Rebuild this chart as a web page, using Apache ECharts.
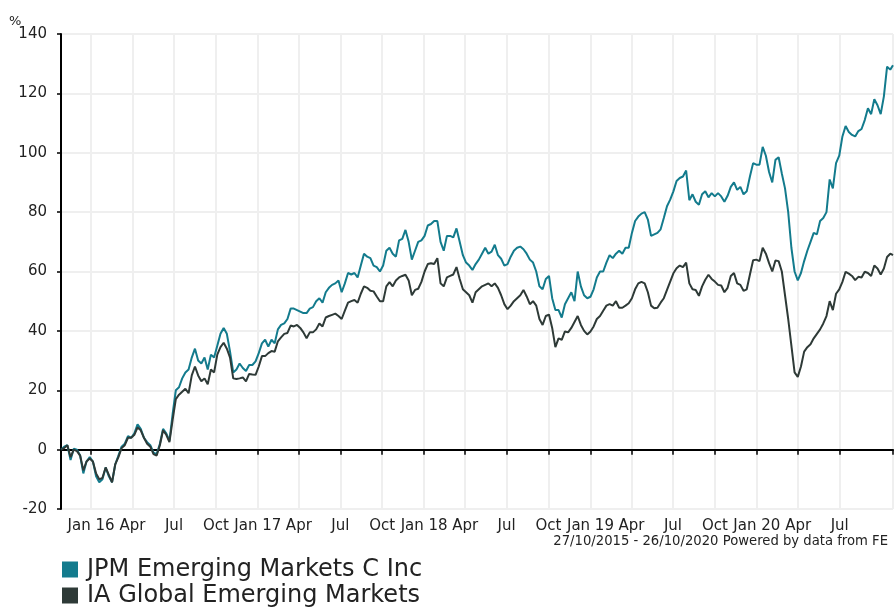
<!DOCTYPE html>
<html>
<head>
<meta charset="utf-8">
<title>JPM Emerging Markets C Inc vs IA Global Emerging Markets</title>
<script src="https://cdn.jsdelivr.net/npm/echarts@6.0.0/dist/echarts.min.js"></script>
<style>
    html, body { margin: 0; padding: 0; background: #fff; }
    #echartsbox { width: 894px; height: 607px; }
</style>
</head>
<body>
<div id="echartsbox"></div>
<script>
// 数据: 周度累计收益 (%)
var startDate = '2015-10-27';
var endDate = '2020-10-26';
var seriesNames = ['JPM Emerging Markets C Inc', 'IA Global Emerging Markets'];
var seriesColors = ['#137b8d', '#2e3a37'];

var jpmValues = [
    0, 1, 1.5, -3.5, 0.3, 0, -2, -8, -4, -2.5, -4, -9, -11, -10, -6, -9, -11, -5, -2, 1,
    2, 4.5, 4, 5.5, 8.5, 7, 4, 2.5, 1.5, -1, -1.5, 2, 7, 5.5, 3,
    12, 20, 21, 24, 26, 27, 31, 34, 30, 29, 31, 27, 32, 31, 35, 39, 41, 39, 33, 26,
    27, 29, 27.5, 26.5, 28.5, 28.5, 29.7, 32.5, 35.8, 37, 34.7, 37, 35.8, 40.5, 42, 42.5,
    44, 47.5, 47.5, 47, 46.5, 46, 46, 47.5, 48, 50, 51, 49.5, 53, 54.5, 55.5, 56, 57, 53,
    56, 59.5, 59, 59.5, 58, 62, 66, 65, 64.5, 62, 61.5, 60, 62, 67, 68, 66, 65, 70.5, 71,
    74, 70, 64, 67, 70, 70.5, 72,
    75.5, 76, 77, 77, 70, 67, 72, 72, 71.5, 74.5, 70, 65.5, 63, 62, 60.5, 62.5, 64, 66, 68,
    66, 66.7, 69, 65.5, 64.3, 62, 62.5, 65, 67, 68, 68.4, 67.5, 66, 64, 63, 60, 55, 54, 57.5,
    58.5, 51, 47, 47, 44.5, 49, 51, 53, 50, 60, 55, 52, 51, 51.5, 54, 58, 60, 60, 63, 65.5,
    64.5, 66,
    67, 66, 68, 68, 73, 77, 78.5, 79.5, 80, 77.5, 72, 72.5, 73, 74.2, 78, 82, 84.2, 87, 90.5,
    91.5, 92, 94, 84, 86, 83.5, 82.5, 86, 87, 85, 86.4, 85.3, 86.4, 85.3, 83.5, 85.5, 88.5,
    90, 87.5, 88.5, 86, 87, 92, 96.5, 96, 96, 102, 99, 93.5, 90, 97.6, 98.5, 93, 88, 80,
    68, 60, 57, 59.5, 63.5, 67, 70, 73, 72.5, 77, 78, 80, 91, 88, 96.5, 99, 105.5, 109, 107,
    106, 105.5, 107.3, 108, 111, 115, 113, 118, 116, 113, 119, 129, 128, 129.5
];

var iaValues = [
    0, 0.5, 1.5, -2.5, 0, -0.5, -2, -7, -4, -3, -4, -8, -10, -9.5, -6, -8.5, -11, -5, -2.5, 0.5,
    1.5, 4, 4, 5, 7.5, 6.5, 4, 2, 1, -1.5, -2, 1.5, 6.5, 5, 2.5,
    10, 17, 18.5, 19.5, 20.5, 19, 25, 28, 25, 23, 24, 22, 27, 26, 32, 34.5, 36, 34, 31, 24,
    23.8, 24, 24.3, 23, 25.5, 25.3, 25.2, 28, 31.5, 31.5, 32.5, 33.2, 33, 36.5, 37.8, 39,
    39.3, 41.8, 41.5, 42, 41, 39.5, 37.5, 39.5, 39.5, 40.5, 42.5, 41.5, 44.5, 45, 45.4, 45.8,
    45, 44, 46.8, 49.5, 50, 50.4, 49.5, 52.5, 55, 54.5, 53.5, 53.3, 51.6, 50, 50, 55, 56.4,
    55, 57, 58, 58.5, 58.9, 57, 52, 53.8, 54.2, 56.5, 60,
    62.5, 62.8, 62.5, 64.5, 56, 55, 58, 58.5, 59, 61.5, 57.5, 54, 53, 52, 49.5, 53, 54, 55,
    55.5, 56, 55, 56, 54.5, 52, 49, 47.3, 48.5, 50, 51, 52, 53.8, 51.6, 49, 50, 48.5, 44, 42,
    45, 45.5, 41, 34.5, 37.5, 37, 39.8, 39.5, 41, 43, 45, 42, 40, 38.8, 39.8, 41.5, 44, 45,
    46.8, 48.5, 49, 48.5, 50,
    47.8, 47.8, 48.5, 49.3, 51, 54, 56, 56.5, 56, 53, 48.5, 47.6, 47.8, 49.5, 51, 53.8, 56.6,
    59.4, 61.1, 62, 61.5, 63, 56, 54, 53.8, 51.8, 55, 57.2, 58.9, 57.5, 56.6, 55.5, 55.3, 53,
    54.5, 58.5, 59.5, 56, 55.5, 53.5, 54, 59, 63.8, 64, 63.5, 68, 66, 62.8, 60, 63.7, 63.5,
    60, 52, 44,
    35, 26, 24.5, 28, 33, 34.5, 35.5, 37.5, 39, 40.5, 42.5, 45, 50, 47, 52.5, 54, 56.5, 59.9,
    59.3, 58.5, 57.1, 58.2, 58, 59.9, 59.5, 58.5, 62, 61, 59, 61, 64.9, 66, 65.5
];

// 坐标轴刻度 (季度)
var quarterTicks = [
    '2016-01-01', '2016-04-01', '2016-07-01', '2016-10-01',
    '2017-01-01', '2017-04-01', '2017-07-01', '2017-10-01',
    '2018-01-01', '2018-04-01', '2018-07-01', '2018-10-01',
    '2019-01-01', '2019-04-01', '2019-07-01', '2019-10-01',
    '2020-01-01', '2020-04-01', '2020-07-01'
];
var monthNames = ['Jan', 'Feb', 'Mar', 'Apr', 'May', 'Jun', 'Jul', 'Aug', 'Sep', 'Oct', 'Nov', 'Dec'];
var yTicks = { min: -20, max: 140, interval: 20 };
var footerText = '27/10/2015 - 26/10/2020 Powered by data from FE';

function toTime(s) {
    var p = s.split('-');
    return Date.UTC(+p[0], +p[1] - 1, +p[2]);
}

function onReady(fn) {
    if (document.readyState !== 'loading') fn();
    else document.addEventListener('DOMContentLoaded', fn);
}

onReady(function () {
    setEcharts('echartsbox');
});

// 图例: 每项一个 legend, 竖排
function legendItem(name, top, font) {
    return {
        left: 62,
        top: top,
        padding: 0,
        itemWidth: 16,
        itemHeight: 16,
        icon: 'rect',
        data: [name],
        textStyle: { fontSize: 24, lineHeight: 24, color: '#222', fontFamily: font, padding: [0, 0, 0, 4] }
    };
}

function setEcharts(id) {
    var t0 = toTime(startDate), t1 = toTime(endDate);
    var week = 7 * 24 * 3600 * 1000;
    // 周度日期, 最后一点为结束日
    var dates = [];
    for (var i = 0; i < jpmValues.length - 1; i++) dates.push(t0 + i * week);
    dates.push(t1);

    var jpmData = dates.map(function (d, i) { return [d, jpmValues[i]]; });
    var iaData = dates.map(function (d, i) { return [d, iaValues[i]]; });

    var labelTimes = quarterTicks.map(toTime);
    var tickTimes = [t0].concat(labelTimes, [t1]);

    var font = 'DejaVu Sans, Verdana, sans-serif';
    var myChart = echarts.init(document.getElementById(id), null, { renderer: 'canvas' });
    var option = {
        animation: false,
        textStyle: { fontFamily: font },
        graphic: [{
            type: 'text',
            left: 9,
            top: 15,
            style: { text: '%', font: '13px ' + font, fill: '#222' }
        }, {
            type: 'text',
            right: 6,
            top: 535,
            style: { text: footerText, font: '13.2px ' + font, fill: '#222' }
        }],
        legend: [legendItem(seriesNames[0], 557.5, font), legendItem(seriesNames[1], 583.5, font)],
        grid: {
            left: 61,
            right: 1,
            top: 34,
            bottom: 98
        },
        xAxis: {
            type: 'value',
            min: t0,
            max: t1,
            axisLine: { lineStyle: { color: '#000', width: 2 } },
            axisTick: {
                show: true,
                length: 5,
                lineStyle: { color: '#000', width: 1.5 },
                customValues: tickTimes
            },
            axisLabel: {
                customValues: labelTimes,
                margin: 10,
                color: '#222',
                fontSize: 15,
                fontFamily: font,
                hideOverlap: false,
                formatter: function (v) {
                    var d = new Date(v);
                    var m = d.getUTCMonth();
                    var s = monthNames[m];
                    if (m === 0) s += ' ' + String(d.getUTCFullYear()).slice(2);
                    return s;
                }
            },
            splitLine: { show: true, lineStyle: { color: '#efefef', width: 2 } }
        },
        yAxis: {
            type: 'value',
            min: yTicks.min,
            max: yTicks.max,
            interval: yTicks.interval,
            axisLine: { show: true, lineStyle: { color: '#000', width: 2 } },
            axisTick: { show: true, length: 4, lineStyle: { color: '#000', width: 1.5 } },
            axisLabel: { margin: 14, color: '#222', fontSize: 15, fontFamily: font },
            splitLine: { show: true, lineStyle: { color: '#efefef', width: 2 } }
        },
        series: [{
            name: seriesNames[0],
            type: 'line',
            data: jpmData,
            showSymbol: false,
            color: seriesColors[0],
            lineStyle: { width: 2, color: seriesColors[0] }
        }, {
            name: seriesNames[1],
            type: 'line',
            data: iaData,
            showSymbol: false,
            color: seriesColors[1],
            lineStyle: { width: 2, color: seriesColors[1] }
        }]
    };
    myChart.setOption(option);
    window.onresize = myChart.resize;
}
</script>
</body>
</html>
